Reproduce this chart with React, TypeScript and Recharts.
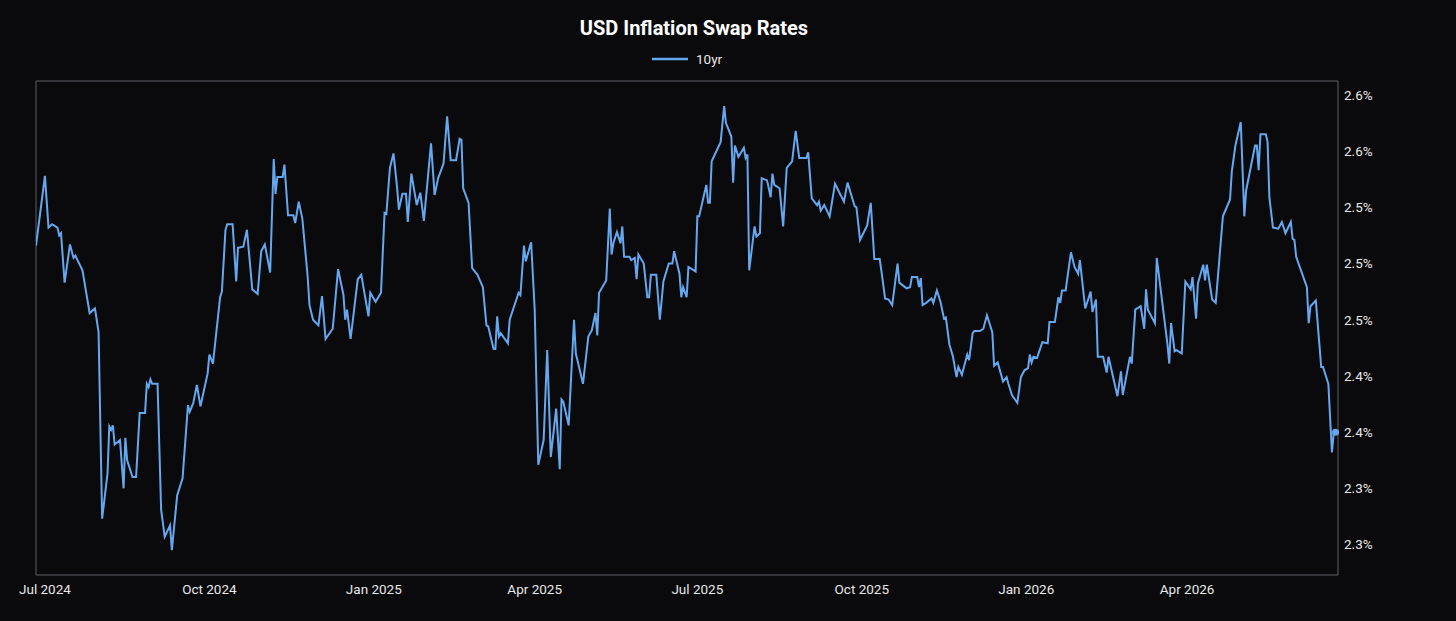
import { LineChart, Line, XAxis, YAxis, ReferenceArea, ReferenceDot } from 'recharts';

const TITLE = 'USD Inflation Swap Rates';
const SERIES = '10yr';

// 10yr USD inflation swap
const dates = [
  '2024-06-26','2024-07-01','2024-07-03','2024-07-05','2024-07-08','2024-07-09','2024-07-10','2024-07-12','2024-07-15','2024-07-17',
  '2024-07-18','2024-07-22','2024-07-26','2024-07-29','2024-07-31','2024-08-02','2024-08-05','2024-08-06','2024-08-07','2024-08-08',
  '2024-08-09','2024-08-12','2024-08-14','2024-08-15','2024-08-16','2024-08-19','2024-08-21','2024-08-23','2024-08-26','2024-08-27',
  '2024-08-28','2024-08-29','2024-08-30','2024-09-02','2024-09-04','2024-09-06','2024-09-09','2024-09-10','2024-09-13','2024-09-16',
  '2024-09-19','2024-09-20','2024-09-22','2024-09-24','2024-09-26','2024-09-30','2024-10-01','2024-10-03','2024-10-07','2024-10-08',
  '2024-10-10','2024-10-11','2024-10-14','2024-10-16','2024-10-17','2024-10-20','2024-10-22','2024-10-25','2024-10-28','2024-10-30',
  '2024-11-01','2024-11-04','2024-11-06','2024-11-07','2024-11-08','2024-11-11','2024-11-12','2024-11-14','2024-11-17','2024-11-18',
  '2024-11-20','2024-11-22','2024-11-25','2024-11-26','2024-11-28','2024-12-01','2024-12-03','2024-12-05','2024-12-09','2024-12-12',
  '2024-12-15','2024-12-16','2024-12-17','2024-12-19','2024-12-23','2024-12-25','2024-12-29','2024-12-30','2025-01-02','2025-01-05',
  '2025-01-07','2025-01-08','2025-01-10','2025-01-12','2025-01-14','2025-01-15','2025-01-17','2025-01-19','2025-01-20','2025-01-22',
  '2025-01-25','2025-01-27','2025-01-29','2025-02-02','2025-02-04','2025-02-06','2025-02-09','2025-02-11','2025-02-13','2025-02-16',
  '2025-02-18','2025-02-19','2025-02-20','2025-02-23','2025-02-25','2025-02-28','2025-03-03','2025-03-05','2025-03-06','2025-03-09',
  '2025-03-10','2025-03-11','2025-03-12','2025-03-13','2025-03-17','2025-03-18','2025-03-23','2025-03-24','2025-03-26','2025-03-27',
  '2025-03-30','2025-04-01','2025-04-03','2025-04-06','2025-04-08','2025-04-10','2025-04-13','2025-04-15','2025-04-16','2025-04-17',
  '2025-04-20','2025-04-23','2025-04-24','2025-04-28','2025-05-01','2025-05-03','2025-05-05','2025-05-06','2025-05-07','2025-05-11',
  '2025-05-13','2025-05-14','2025-05-15','2025-05-17','2025-05-19','2025-05-20','2025-05-21','2025-05-24','2025-05-25','2025-05-27',
  '2025-05-28','2025-05-29','2025-06-01','2025-06-03','2025-06-04','2025-06-05','2025-06-08','2025-06-10','2025-06-12','2025-06-15',
  '2025-06-17','2025-06-18','2025-06-21','2025-06-22','2025-06-23','2025-06-25','2025-06-26','2025-06-30','2025-07-01','2025-07-02',
  '2025-07-06','2025-07-07','2025-07-08','2025-07-09','2025-07-14','2025-07-16','2025-07-17','2025-07-20','2025-07-21','2025-07-22',
  '2025-07-24','2025-07-27','2025-07-28','2025-07-29','2025-07-30','2025-08-02','2025-08-03','2025-08-05','2025-08-06','2025-08-09',
  '2025-08-11','2025-08-12','2025-08-13','2025-08-16','2025-08-18','2025-08-20','2025-08-23','2025-08-25','2025-08-27','2025-08-31',
  '2025-09-01','2025-09-03','2025-09-06','2025-09-07','2025-09-08','2025-09-10','2025-09-13','2025-09-16','2025-09-21','2025-09-23',
  '2025-09-27','2025-09-28','2025-09-30','2025-10-04','2025-10-06','2025-10-08','2025-10-11','2025-10-12','2025-10-14','2025-10-16',
  '2025-10-18','2025-10-21','2025-10-22','2025-10-26','2025-10-28','2025-10-29','2025-11-01','2025-11-02','2025-11-03','2025-11-04',
  '2025-11-06','2025-11-09','2025-11-10','2025-11-12','2025-11-14','2025-11-16','2025-11-17','2025-11-19','2025-11-21','2025-11-23',
  '2025-11-24','2025-11-26','2025-11-29','2025-11-30','2025-12-02','2025-12-03','2025-12-06','2025-12-08','2025-12-10','2025-12-13',
  '2025-12-14','2025-12-16','2025-12-19','2025-12-21','2025-12-22','2025-12-24','2025-12-27','2025-12-29','2025-12-31','2026-01-02',
  '2026-01-03','2026-01-04','2026-01-05','2026-01-07','2026-01-10','2026-01-13','2026-01-14','2026-01-17','2026-01-19','2026-01-20',
  '2026-01-21','2026-01-23','2026-01-26','2026-01-28','2026-01-30','2026-01-31','2026-02-03','2026-02-06','2026-02-07','2026-02-09',
  '2026-02-10','2026-02-13','2026-02-15','2026-02-16','2026-02-21','2026-02-23','2026-02-24','2026-02-28','2026-03-01','2026-03-03',
  '2026-03-06','2026-03-08','2026-03-09','2026-03-10','2026-03-14','2026-03-15','2026-03-21','2026-03-22','2026-03-23','2026-03-25',
  '2026-03-26','2026-03-29','2026-03-31','2026-04-03','2026-04-04','2026-04-06','2026-04-07','2026-04-10','2026-04-11','2026-04-12',
  '2026-04-15','2026-04-17','2026-04-21','2026-04-25','2026-04-26','2026-04-28','2026-05-01','2026-05-03','2026-05-04','2026-05-09',
  '2026-05-10','2026-05-11','2026-05-12','2026-05-15','2026-05-16','2026-05-17','2026-05-19','2026-05-22','2026-05-24','2026-05-26',
  '2026-05-29','2026-05-30','2026-05-31','2026-06-01','2026-06-07','2026-06-08','2026-06-09','2026-06-12','2026-06-15','2026-06-16',
  '2026-06-19','2026-06-21','2026-06-22','2026-06-23',
];

const rate10y = [
  2.516, 2.578, 2.532, 2.535, 2.532, 2.525, 2.527, 2.483, 2.517, 2.505,
  2.507, 2.494, 2.456, 2.460, 2.439, 2.273, 2.313, 2.355, 2.352, 2.356,
  2.339, 2.343, 2.300, 2.345, 2.325, 2.310, 2.310, 2.367, 2.367, 2.393,
  2.390, 2.397, 2.393, 2.393, 2.281, 2.257, 2.267, 2.245, 2.294, 2.309,
  2.374, 2.368, 2.376, 2.392, 2.373, 2.402, 2.419, 2.411, 2.470, 2.475,
  2.530, 2.535, 2.535, 2.484, 2.514, 2.515, 2.530, 2.477, 2.473, 2.511,
  2.517, 2.492, 2.593, 2.562, 2.577, 2.577, 2.588, 2.543, 2.543, 2.536,
  2.555, 2.540, 2.488, 2.463, 2.450, 2.445, 2.471, 2.433, 2.442, 2.495,
  2.472, 2.450, 2.459, 2.433, 2.486, 2.490, 2.453, 2.474, 2.466, 2.474,
  2.545, 2.544, 2.585, 2.598, 2.568, 2.548, 2.562, 2.562, 2.537, 2.580,
  2.552, 2.563, 2.538, 2.607, 2.561, 2.576, 2.589, 2.631, 2.592, 2.592,
  2.611, 2.610, 2.567, 2.554, 2.496, 2.490, 2.479, 2.445, 2.444, 2.424,
  2.424, 2.453, 2.435, 2.438, 2.429, 2.450, 2.474, 2.472, 2.516, 2.502,
  2.519, 2.459, 2.321, 2.343, 2.423, 2.328, 2.371, 2.317, 2.379, 2.377,
  2.356, 2.450, 2.420, 2.393, 2.435, 2.441, 2.456, 2.436, 2.474, 2.485,
  2.549, 2.508, 2.518, 2.528, 2.518, 2.533, 2.506, 2.506, 2.503, 2.505,
  2.486, 2.508, 2.500, 2.470, 2.470, 2.490, 2.490, 2.450, 2.484, 2.500,
  2.500, 2.511, 2.491, 2.470, 2.479, 2.470, 2.497, 2.493, 2.542, 2.542,
  2.570, 2.554, 2.554, 2.591, 2.608, 2.640, 2.625, 2.613, 2.572, 2.605,
  2.595, 2.603, 2.594, 2.597, 2.494, 2.533, 2.524, 2.527, 2.576, 2.574,
  2.559, 2.580, 2.570, 2.567, 2.533, 2.585, 2.591, 2.618, 2.594, 2.594,
  2.599, 2.558, 2.552, 2.555, 2.547, 2.552, 2.542, 2.571, 2.555, 2.572,
  2.551, 2.550, 2.521, 2.534, 2.554, 2.504, 2.504, 2.493, 2.469, 2.468,
  2.463, 2.500, 2.483, 2.478, 2.479, 2.488, 2.488, 2.479, 2.487, 2.463,
  2.465, 2.469, 2.465, 2.476, 2.466, 2.451, 2.452, 2.428, 2.417, 2.399,
  2.408, 2.401, 2.419, 2.414, 2.438, 2.440, 2.440, 2.442, 2.454, 2.439,
  2.409, 2.412, 2.395, 2.399, 2.393, 2.383, 2.376, 2.399, 2.405, 2.407,
  2.419, 2.412, 2.417, 2.416, 2.430, 2.429, 2.448, 2.448, 2.470, 2.465,
  2.476, 2.476, 2.510, 2.497, 2.491, 2.503, 2.460, 2.475, 2.457, 2.468,
  2.417, 2.417, 2.403, 2.417, 2.382, 2.404, 2.383, 2.417, 2.411, 2.459,
  2.462, 2.442, 2.477, 2.459, 2.447, 2.505, 2.428, 2.411, 2.447, 2.422,
  2.423, 2.420, 2.484, 2.477, 2.488, 2.451, 2.482, 2.499, 2.485, 2.499,
  2.468, 2.465, 2.542, 2.557, 2.582, 2.605, 2.626, 2.542, 2.565, 2.605,
  2.605, 2.583, 2.615, 2.615, 2.608, 2.559, 2.532, 2.531, 2.537, 2.527,
  2.537, 2.522, 2.521, 2.506, 2.479, 2.447, 2.462, 2.467, 2.408, 2.408,
  2.393, 2.332, 2.349, 2.350,
];

const xTickDates = ['2024-07-01', '2024-10-01', '2025-01-01', '2025-04-01', '2025-07-01', '2025-10-01', '2026-01-01', '2026-04-01'];
const xTickLabels = ['Jul 2024', 'Oct 2024', 'Jan 2025', 'Apr 2025', 'Jul 2025', 'Oct 2025', 'Jan 2026', 'Apr 2026'];

const yTicks = [2.25, 2.3, 2.35, 2.4, 2.45, 2.5, 2.55, 2.6, 2.65];
const yTickLabels = ['2.3%', '2.3%', '2.4%', '2.4%', '2.5%', '2.5%', '2.5%', '2.6%', '2.6%'];
const yDomain: [number, number] = [2.2229, 2.6624];

const BG = '#0a0a0c';
const LINE = '#66a8f0';
const BORDER = '#5c5f66';
const TEXT = '#e8e8e8';

const DAY = 86400000;
const toMs = (s: string) => Date.parse(s + 'T00:00:00Z');

const data = dates.map((d, i) => ({ t: toMs(d), rate: rate10y[i] }));
const xTicks = xTickDates.map(toMs);
const xDomain: [number, number] = [toMs('2024-06-26'), toMs('2026-06-24') + 0.4 * DAY];
const last = data[data.length - 1];

export default function App() {
  return (
    <div
      style={{
        position: 'fixed', left: 0, top: 0, width: 1456, height: 621,
        background: BG, fontFamily: 'Roboto, sans-serif',
      }}
    >
      <svg width={1456} height={80} style={{ position: 'absolute', left: 0, top: 0 }}>
        <text x={694} y={35} textAnchor="middle" fill="#ffffff" fontSize={20} fontWeight={700}>
          {TITLE}
        </text>
        <line x1={652} x2={688} y1={59} y2={59} stroke={LINE} strokeWidth={2.5} />
        <text x={696} y={64} fill={TEXT} fontSize={13.5}>{SERIES}</text>
      </svg>
      <LineChart
        width={1456}
        height={621}
        data={data}
        margin={{ top: 81, right: 58, bottom: 16, left: 36 }}
      >
        <XAxis
          dataKey="t"
          type="number"
          scale="time"
          domain={xDomain}
          ticks={xTicks}
          interval={0}
          allowDataOverflow
          tickFormatter={(v: number) => xTickLabels[xTicks.indexOf(v)] ?? ''}
          tick={{ fill: TEXT, fontSize: 13.5 }}
          axisLine={false}
          tickLine={false}
          tickSize={0}
          tickMargin={9}
          height={30}
        />
        <YAxis
          orientation="right"
          type="number"
          domain={yDomain}
          ticks={yTicks}
          interval={0}
          allowDataOverflow
          tickFormatter={(v: number) => yTickLabels[yTicks.indexOf(v)] ?? ''}
          tick={{ fill: TEXT, fontSize: 13.5 }}
          axisLine={false}
          tickLine={false}
          tickSize={0}
          tickMargin={6}
          width={60}
        />
        <ReferenceArea
          x1={xDomain[0]}
          x2={xDomain[1]}
          y1={yDomain[0]}
          y2={yDomain[1]}
          fill="none"
          stroke={BORDER}
          strokeWidth={1}
          ifOverflow="visible"
        />
        <Line
          type="linear"
          dataKey="rate"
          name={SERIES}
          stroke={LINE}
          strokeWidth={2}
          dot={false}
          activeDot={false}
          isAnimationActive={false}
        />
        <ReferenceDot x={last.t} y={last.rate} r={3.5} fill={LINE} stroke="none" ifOverflow="visible" />
      </LineChart>
    </div>
  );
}
